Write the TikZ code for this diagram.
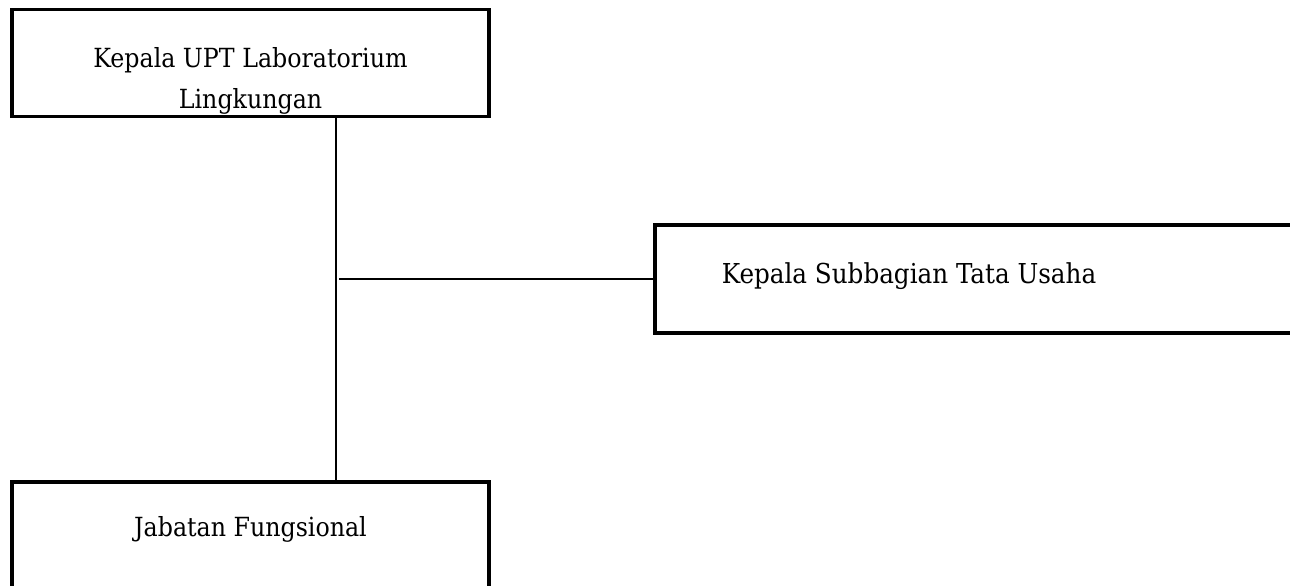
\documentclass[tikz,border=0pt]{standalone}
\usepackage{fontspec}
\setmainfont{DejaVu Serif Condensed}
\usepackage{tikz}
\usetikzlibrary{positioning,calc}

\begin{document}
\begin{tikzpicture}[
  x=0.02cm, y=-0.02cm,
  every node/.style={font=\fontsize{15}{23}\selectfont},
  unit/.style={rectangle, draw=black, line width=1.8pt, fill=white,
               minimum width=9.54cm, minimum height=2.14cm},
  wideunit/.style={unit, minimum width=13.3cm, minimum height=2.16cm},
  caption/.style={align=center, inner sep=0pt},
  link/.style={draw=black, line width=1.1pt}
]
  \useasboundingbox (0,0) rectangle (1290,585);
  \fill[white] (0,0) rectangle (1290,585);

  \node[unit] (kepala) at (250.5,63) {};
  \node[wideunit] (tu) at (987.5,279) {};
  \node[unit, minimum height=2.16cm] (fungsional) at (250.5,536) {};

  \node[caption] (kepalatext) at (250.5,81) {Kepala UPT Laboratorium\\Lingkungan};
  \node[caption, font=\fontsize{15.6}{19}\selectfont] (tutext) at (909,276)
       {Kepala Subbagian Tata Usaha};
  \node[caption] (fungsionaltext) at (250.5,529) {Jabatan Fungsional};

  \coordinate (trunk) at (336,0);
  \draw[link] (kepala.south -| trunk) -- (fungsional.north -| trunk);
  \draw[link, line width=0.9pt] (tu.west) -- ([xshift=1.5]tu.west -| trunk);
\end{tikzpicture}
\end{document}
